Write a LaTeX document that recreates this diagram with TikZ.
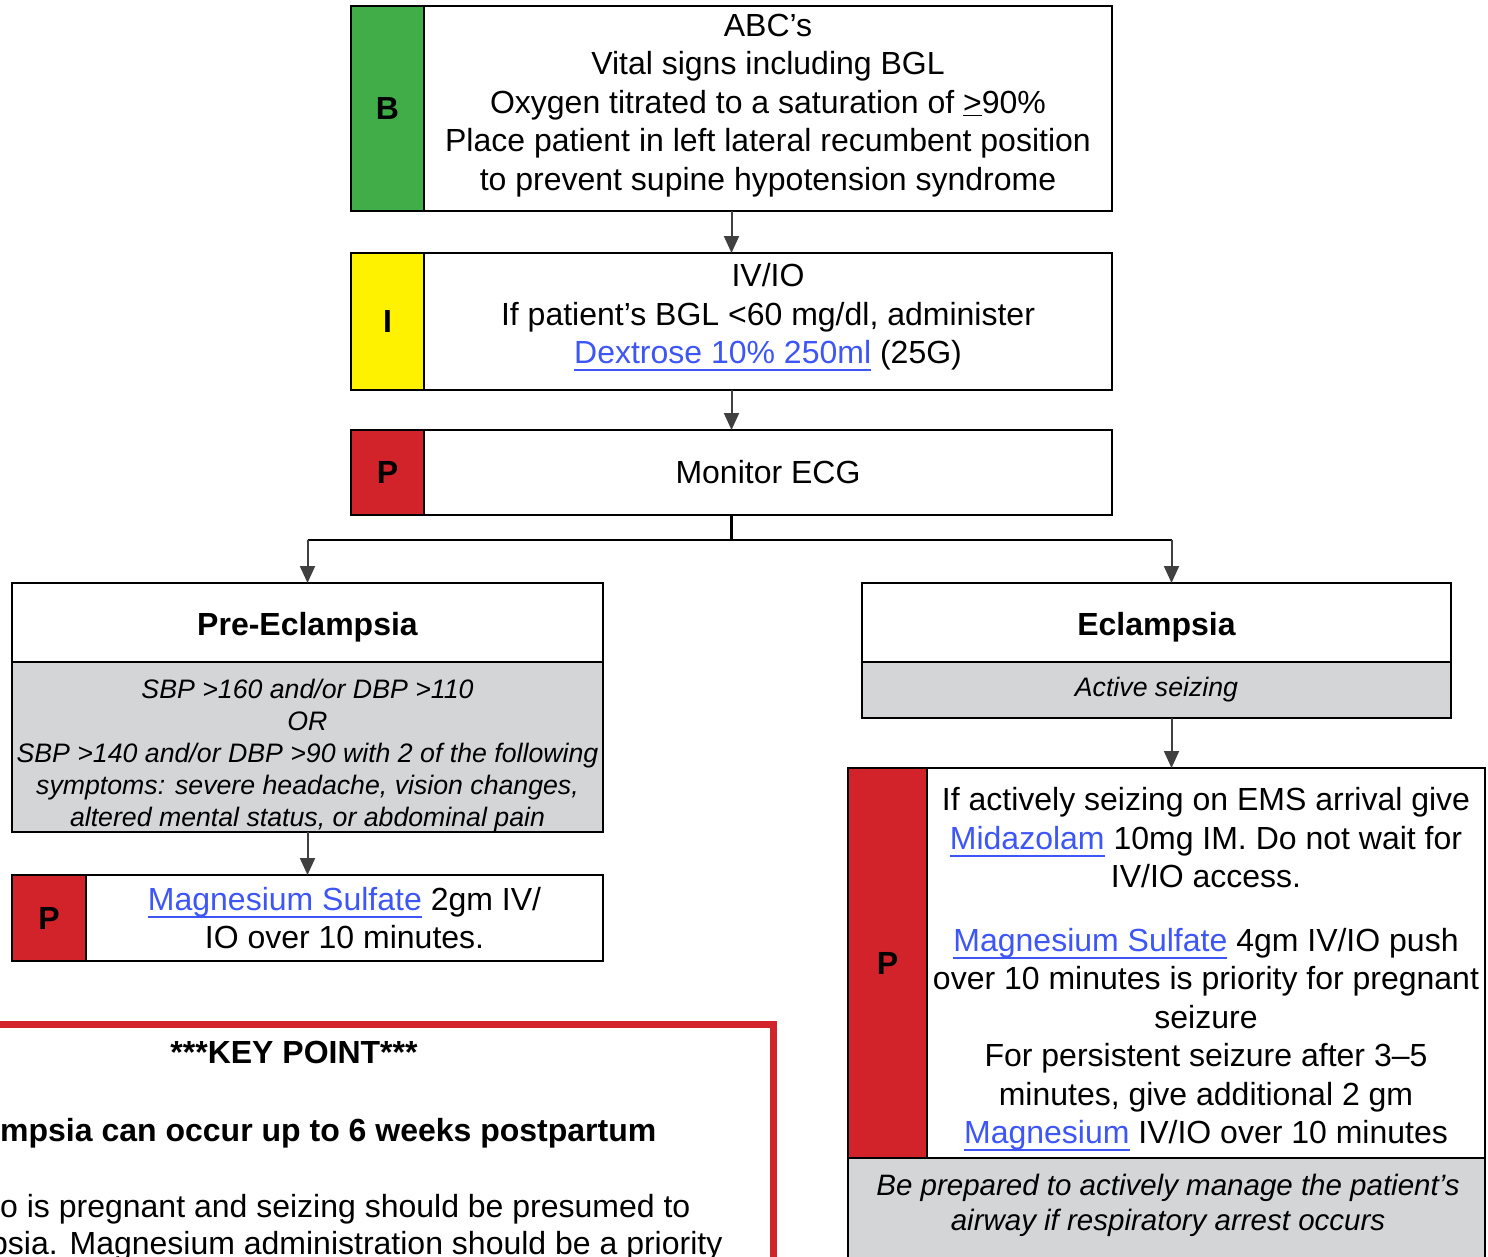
\documentclass[tikz,border=0pt]{standalone}
\usepackage{fontspec}
\setmainfont{Liberation Sans}
\usepackage{tikz}
\usetikzlibrary{calc, arrows.meta, positioning}

\definecolor{verdeB}{RGB}{65,173,73}
\definecolor{gialloI}{RGB}{255,242,0}
\definecolor{rossoP}{RGB}{210,35,42}
\definecolor{grigio}{RGB}{212,213,215}
\definecolor{blulink}{RGB}{62,86,246}
\definecolor{grigioscuro}{RGB}{64,64,64}

\newcommand{\lnk}[1]{{\color{blulink}\setbox0\hbox{#1}\rlap{\rule[-7.5pt]{\wd0}{2pt}}\box0}}
\newcommand{\su}[1]{\rule{0pt}{#1}}
\newcommand{\giu}[1]{\rule[-#1]{0pt}{#1}}

\tikzset{
  box/.style={draw=black, line width=2.5pt, fill=white, outer sep=0pt, inner sep=0pt,
    align=center, font=\fontsize{32}{38.5}\selectfont},
  tag/.style={box, font=\fontsize{32}{38.5}\selectfont\bfseries},
  titolo/.style={tag, text height=33pt, text depth=6.7pt},
  nota/.style={box, fill=grigio, font=\fontsize{26.7}{32}\selectfont\itshape},
  conn/.style={draw=grigioscuro, line width=2pt, -{Triangle[length=17pt,width=15pt]}},
}

\begin{document}
\begin{tikzpicture}[x=1pt, y=-1pt]
  \useasboundingbox (0,0) rectangle (1488,1256);
  \clip (0,0) rectangle (1488,1256);

  % riquadro B
  \node[tag, fill=verdeB, minimum width=73, minimum height=205] (tagB) at (387.5,108.5) {B};
  \node[box, minimum width=688, minimum height=205, anchor=west] (boxB) at (tagB.east)
    {ABC’s\\Vital signs including BGL\\Oxygen titrated to a saturation of \underline{>}90\%\\
     Place patient in left lateral recumbent position\\to prevent supine hypotension syndrome\giu{12.7pt}};

  % riquadro I
  \node[tag, fill=gialloI, minimum width=73, minimum height=137] (tagI) at (387.5,321.5) {I};
  \node[box, minimum width=688, minimum height=137, anchor=west] (boxI) at (tagI.east)
    {IV/IO\\If patient’s BGL <60 mg/dl, administer\\\lnk{Dextrose 10\% 250ml} (25G)\giu{15.5pt}};

  % riquadro P
  \node[tag, fill=rossoP, minimum width=73, minimum height=85] (tagP) at (387.5,472.5) {P};
  \node[box, minimum width=688, minimum height=85, anchor=west] (boxP) at (tagP.east) {Monitor ECG};

  % pre-eclampsia
  \node[titolo, minimum width=591, minimum height=79] (preE) at (307.5,622.5) {Pre-Eclampsia};
  \node[nota, minimum width=591, minimum height=170, below=0pt of preE] (preEg)
    {\su{36pt}SBP >160 and/or DBP >110\\OR\\SBP >140 and/or DBP >90 with 2 of the following\\
     symptoms: severe headache, vision changes,\\altered mental status, or abdominal pain};
  \node[tag, fill=rossoP, minimum width=74, minimum height=86] (tagM) at (49,918) {P};
  \node[box, minimum width=517, minimum height=86, anchor=west] (boxM) at (tagM.east)
    {\lnk{Magnesium Sulfate} 2gm IV/\\IO over 10 minutes.};

  % eclampsia
  \node[titolo, minimum width=589, minimum height=79] (ecl) at (1156.5,622.5) {Eclampsia};
  \node[nota, minimum width=589, minimum height=56, below=0pt of ecl] (eclG) {Active seizing};
  \node[tag, fill=rossoP, minimum width=79, minimum height=390] (tagE) at (887.5,963) {P};
  \node[box, minimum width=558, minimum height=390, anchor=west] (boxE) at (tagE.east)
    {\su{35.5pt}If actively seizing on EMS arrival give\\\lnk{Midazolam} 10mg IM. Do not wait for\\IV/IO access.\\[25pt]
     \lnk{Magnesium Sulfate} 4gm IV/IO push\\over 10 minutes is priority for pregnant\\seizure\\
     For persistent seizure after 3--5\\minutes, give additional 2 gm\\\lnk{Magnesium} IV/IO over 10 minutes};
  \node[nota, minimum width=637, minimum height=140, anchor=north west] (alertE) at (tagE.south west) {};
  \node[align=center, font=\fontsize{29.5}{35}\selectfont\itshape] (alertTxt) at (1168,1203.5)
    {\su{25.3pt}Be prepared to actively manage the patient’s\\airway if respiratory arrest occurs};

  % key point
  \draw[draw=rossoP, line width=7pt, fill=white] (-30,1024.5) rectangle (773.5,1300);
  \node[font=\fontsize{32}{38.5}\selectfont\bfseries] (kpTit) at (294,1052) {***KEY POINT***};
  \node[anchor=west, inner sep=0pt, font=\fontsize{32}{38.5}\selectfont\bfseries] (kpA) at (0,1133)
    {mpsia can occur up to 6 weeks postpartum};
  \node[anchor=west, inner sep=0pt, font=\fontsize{32}{38.5}\selectfont] (kpB) at (0,1209)
    {o is pregnant and seizing should be presumed to};
  \node[anchor=west, inner sep=0pt, font=\fontsize{32}{38.5}\selectfont] (kpC) at (-10,1246)
    {psia. Magnesium administration should be a priority};

  % frecce
  \draw[conn] ($(tagB.south west)!.5!(boxB.south east)$) -- ($(tagI.north west)!.5!(boxI.north east)$);
  \draw[conn] ($(tagI.south west)!.5!(boxI.south east)$) -- ($(tagP.north west)!.5!(boxP.north east)$);
  \coordinate (bivC) at ($(tagP.south west)!.5!(boxP.south east) + (0,25)$);
  \coordinate (bivL) at (bivC -| preE.north);
  \coordinate (bivR) at ($(bivC) + (440,0)$);
  \draw[line width=2.5pt] ($(tagP.south west)!.5!(boxP.south east)$) -- (bivC);
  \draw[line width=2.5pt] (bivL) -- (bivR);
  \draw[conn] (bivL) -- (preE.north);
  \draw[conn] (bivR) -- (bivR |- ecl.north);
  \draw[conn] (preEg.south) -- (preEg.south |- boxM.north);
  \draw[conn] (eclG.south -| bivR) -- (bivR |- boxE.north);
\end{tikzpicture}
\end{document}
